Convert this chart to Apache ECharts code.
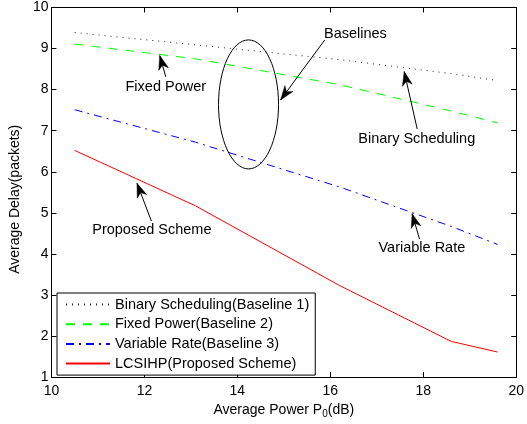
<!DOCTYPE html>
<html>
<head>
<meta charset="utf-8">
<script src="https://cdn.jsdelivr.net/npm/echarts@6/dist/echarts.min.js"></script>
<style>
html,body{margin:0;padding:0;background:#fff;}
#chart{width:527px;height:424px;}
</style>
</head>
<body>
<div id="chart"></div>
<script>
// ---- data ----
var powerDb = [10.5, 13.1, 16.2, 18.6, 19.6];
var binaryScheduling = [9.39, 9.09, 8.73, 8.39, 8.22];
var fixedPower = [9.11, 8.75, 8.12, 7.48, 7.19];
var variableRate = [7.51, 6.72, 5.63, 4.67, 4.23];
var lcsihp = [6.52, 5.17, 3.23, 1.87, 1.61];
var xTicks = [10, 12, 14, 16, 18, 20];
var yTicks = [1, 2, 3, 4, 5, 6, 7, 8, 9, 10];
var seriesNames = ['Binary Scheduling(Baseline 1)', 'Fixed Power(Baseline 2)', 'Variable Rate(Baseline 3)', 'LCSIHP(Proposed Scheme)'];

// annotations in data coordinates
var annotations = [
  {text: 'Baselines', pos: [16.54, 9.36], tail: [15.88, 9.21], tip: [14.93, 7.75]},
  {text: 'Fixed Power', pos: [12.46, 8.07], tail: [12.46, 8.31], tip: [12.33, 8.83]},
  {text: 'Binary Scheduling', pos: [17.86, 6.80], tail: [17.87, 7.04], tip: [17.59, 8.44]},
  {text: 'Proposed Scheme', pos: [12.16, 4.57], tail: [12.15, 4.80], tip: [11.84, 5.72]},
  {text: 'Variable Rate', pos: [17.97, 4.15], tail: [17.92, 4.36], tip: [17.76, 4.98]}
];
var ellipseCenter = [14.24, 7.64];

function pairs(xs, ys) { return xs.map(function (x, i) { return [x, ys[i]]; }); }

var FONT = 'Liberation Sans, Arial, Helvetica, sans-serif';
var chart = echarts.init(document.getElementById('chart'), null, {renderer: 'canvas'});

var axisCommon = {
  type: 'value',
  axisLine: {show: true, onZero: false, lineStyle: {color: '#000', width: 1}},
  axisTick: {show: true, inside: true, length: 5, lineStyle: {color: '#000'}},
  splitLine: {show: false}
};

var option = {
  animation: false,
  backgroundColor: '#fff',
  textStyle: {fontFamily: FONT},
  grid: {left: 51, right: 8, top: 7.5, bottom: 46.5, containLabel: false},
  legend: {
    orient: 'vertical',
    left: 57, top: 293,
    padding: [4, 6, 4, 8],
    itemWidth: 44, itemHeight: 14, itemGap: 4.7,
    backgroundColor: '#fff',
    borderColor: '#000', borderWidth: 1,
    itemStyle: {opacity: 0},
    textStyle: {fontFamily: FONT, fontSize: 14.5, color: '#000', padding: [0, 0, 0, 0]},
    data: seriesNames
  },
  xAxis: [
    Object.assign({}, axisCommon, {
      min: 10, max: 20, interval: 2, position: 'bottom',
      axisLabel: {color: '#000', fontSize: 14, fontFamily: FONT, margin: 7},
      name: 'Average Power P{sub|0}(dB)',
      nameLocation: 'middle', nameGap: 22,
      nameTextStyle: {color: '#000', fontSize: 14, fontFamily: FONT,
        rich: {sub: {fontSize: 10, fontFamily: FONT, color: '#000', padding: [8, 0, 0, 0]}}}
    }),
    Object.assign({}, axisCommon, {
      min: 10, max: 20, interval: 2, position: 'top',
      axisLabel: {show: false}
    })
  ],
  yAxis: [
    Object.assign({}, axisCommon, {
      min: 1, max: 10, interval: 1, position: 'left',
      axisLabel: {color: '#000', fontSize: 14, fontFamily: FONT, margin: 3},
      name: 'Average Delay(packets)',
      nameLocation: 'middle', nameGap: 24,
      nameTextStyle: {color: '#000', fontSize: 14, fontFamily: FONT, padding: [0, 14, 0, 0]}
    }),
    Object.assign({}, axisCommon, {
      min: 1, max: 10, interval: 1, position: 'right',
      axisLabel: {show: false}
    })
  ],
  series: [
    {name: seriesNames[0], type: 'line', data: pairs(powerDb, binaryScheduling), symbol: 'none',
      lineStyle: {color: '#222', width: 1, type: [1, 5]}, itemStyle: {color: '#222'}},
    {name: seriesNames[1], type: 'line', data: pairs(powerDb, fixedPower), symbol: 'none',
      lineStyle: {color: '#00ff00', width: 1, type: [9, 8]}, itemStyle: {color: '#00ff00'}},
    {name: seriesNames[2], type: 'line', data: pairs(powerDb, variableRate), symbol: 'none',
      lineStyle: {color: '#0000ff', width: 1, type: [8, 5, 2, 5]}, itemStyle: {color: '#0000ff'}},
    {name: seriesNames[3], type: 'line', data: pairs(powerDb, lcsihp), symbol: 'none',
      lineStyle: {color: '#ff0000', width: 1, type: 'solid'}, itemStyle: {color: '#ff0000'}}
  ]
};
chart.setOption(option);

// annotations drawn through the chart's coordinate conversion
function px(p) { return chart.convertToPixel({xAxisIndex: 0, yAxisIndex: 0}, p); }
function arrowHead(tip, tail) {
  var dx = tip[0] - tail[0], dy = tip[1] - tail[1];
  var len = Math.sqrt(dx * dx + dy * dy);
  var ux = dx / len, uy = dy / len, nx = -uy, ny = ux;
  var L = 14, W = 5, N = 10;
  return [
    tip,
    [tip[0] - ux * L + nx * W, tip[1] - uy * L + ny * W],
    [tip[0] - ux * N, tip[1] - uy * N],
    [tip[0] - ux * L - nx * W, tip[1] - uy * L - ny * W]
  ];
}
var graphics = [];
var ec = px(ellipseCenter);
graphics.push({type: 'ellipse', shape: {cx: ec[0], cy: ec[1], rx: 30, ry: 64.5},
  style: {fill: 'none', stroke: '#000', lineWidth: 1}, z: 10});
annotations.forEach(function (a) {
  var t = px(a.pos), tl = px(a.tail), tp = px(a.tip);
  graphics.push({type: 'text', x: t[0], y: t[1], z: 10,
    style: {text: a.text, fill: '#000', font: '14.5px ' + FONT, align: 'center', verticalAlign: 'middle'}});
  graphics.push({type: 'line', shape: {x1: tl[0], y1: tl[1], x2: tp[0], y2: tp[1]},
    style: {stroke: '#000', lineWidth: 1}, z: 10});
  graphics.push({type: 'polygon', shape: {points: arrowHead(tp, tl)},
    style: {fill: '#000', stroke: '#000', lineWidth: 0.5}, z: 10});
});
chart.setOption({graphic: graphics});
</script>
</body>
</html>
